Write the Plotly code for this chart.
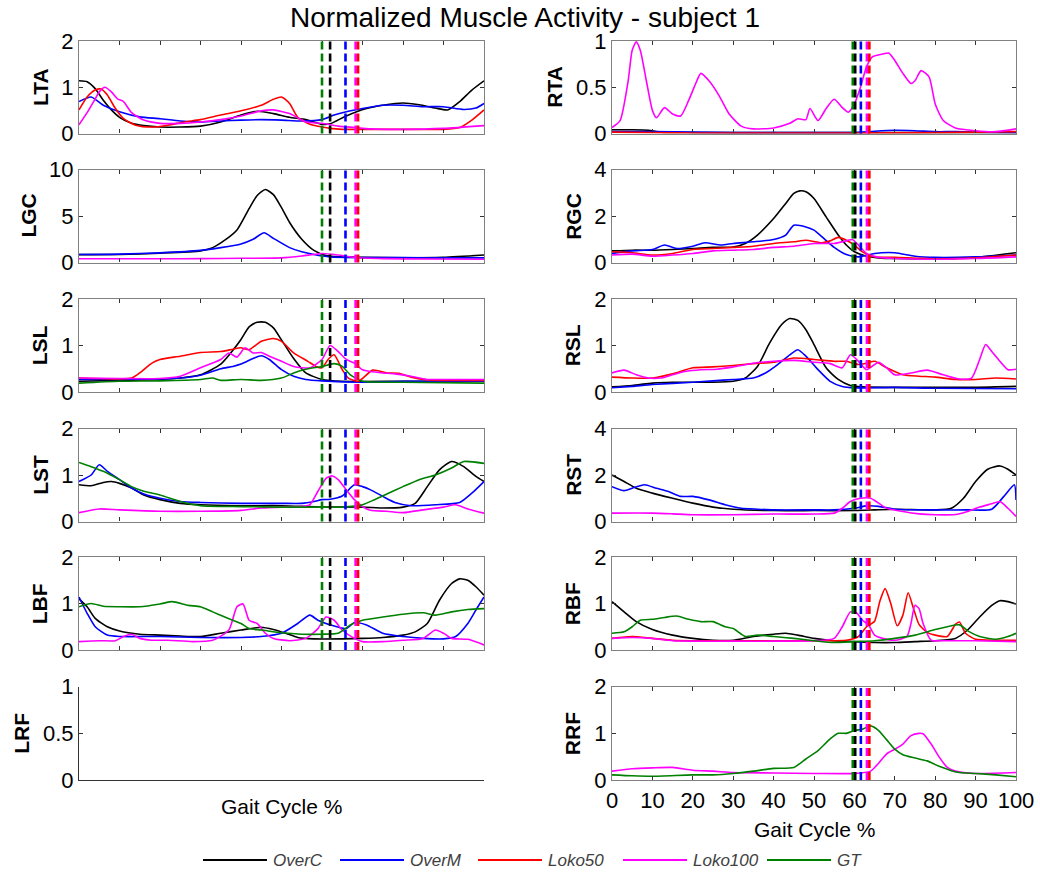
import plotly.graph_objects as go

# ---------------- data ----------------
SERIES = ["OverC", "OverM", "Loko50", "Loko100", "GT"]
COLORS = {"OverC": "#000000", "OverM": "#0000ff", "Loko50": "#ff0000",
          "Loko100": "#ff00ff", "GT": "#008000"}

LEFT_MUSCLES = ["LTA", "LGC", "LSL", "LST", "LBF", "LRF"]
RIGHT_MUSCLES = ["RTA", "RGC", "RSL", "RST", "RBF", "RRF"]

Y_TICKS = {
    "LTA": [0, 1, 2], "RTA": [0, 0.5, 1],
    "LGC": [0, 5, 10], "RGC": [0, 2, 4],
    "LSL": [0, 1, 2], "RSL": [0, 1, 2],
    "LST": [0, 1, 2], "RST": [0, 2, 4],
    "LBF": [0, 1, 2], "RBF": [0, 1, 2],
    "LRF": [0, 0.5, 1], "RRF": [0, 1, 2],
}
Y_TICKTEXT = {
    "LTA": ["0", "1", "2"], "RTA": ["0", "0.5", "1"],
    "LGC": ["0", "5", "10"], "RGC": ["0", "2", "4"],
    "LSL": ["0", "1", "2"], "RSL": ["0", "1", "2"],
    "LST": ["0", "1", "2"], "RST": ["0", "2", "4"],
    "LBF": ["0", "1", "2"], "RBF": ["0", "1", "2"],
    "LRF": ["0", "0.5", "1"], "RRF": ["0", "1", "2"],
}
X_TICKS = [0, 10, 20, 30, 40, 50, 60, 70, 80, 90, 100]

# gait events (toe-off %) per series, left and right side
LEFT_EVENTS = {"GT": 60.0, "OverC": 62.0, "OverM": 65.8, "Loko100": 68.3, "Loko50": 68.9}
RIGHT_EVENTS = {"GT": 59.6, "OverC": 60.2, "OverM": 61.6, "Loko100": 63.1, "Loko50": 63.7}

# ---- LTA ----
LTA_OVERC_X = [0, 2, 4, 6, 8, 10, 13, 16, 20, 25, 30, 35, 40, 44, 48, 52, 56, 60, 62, 66, 71, 75, 80, 84, 88, 91, 94, 97, 100]
LTA_OVERC_Y = [1.14, 1.12, 0.97, 0.72, 0.51, 0.35, 0.22, 0.17, 0.14, 0.14, 0.16, 0.25, 0.40, 0.48, 0.43, 0.35, 0.30, 0.20, 0.21, 0.38, 0.54, 0.61, 0.66, 0.62, 0.55, 0.51, 0.69, 0.94, 1.14]
LTA_OVERM_X = [0, 3, 6, 10, 15, 20, 25, 30, 35, 40, 45, 50, 55, 60, 63, 66, 70, 75, 80, 85, 90, 95, 98, 100]
LTA_OVERM_Y = [0.69, 0.79, 0.61, 0.47, 0.36, 0.32, 0.27, 0.25, 0.27, 0.29, 0.30, 0.29, 0.27, 0.30, 0.40, 0.47, 0.54, 0.61, 0.61, 0.58, 0.58, 0.52, 0.55, 0.65]
LTA_LOKO50_X = [0, 2, 4, 5.5, 7, 9, 11, 14, 18, 22, 26, 30, 35, 40, 45, 48, 50, 52, 54, 57, 60, 62, 65, 70, 80, 90, 94, 97, 100]
LTA_LOKO50_Y = [0.51, 0.79, 0.94, 0.96, 0.83, 0.54, 0.32, 0.18, 0.14, 0.18, 0.25, 0.30, 0.40, 0.49, 0.61, 0.74, 0.79, 0.65, 0.35, 0.20, 0.14, 0.11, 0.09, 0.09, 0.09, 0.09, 0.13, 0.29, 0.51]
LTA_LOKO100_X = [0, 2, 4, 5, 6.4, 8, 9.5, 11, 13, 16, 20, 25, 30, 35, 40, 45, 48, 52, 56, 60, 64, 68, 72, 80, 90, 100]
LTA_LOKO100_Y = [0.19, 0.45, 0.75, 0.90, 1.00, 0.90, 0.75, 0.69, 0.45, 0.29, 0.22, 0.22, 0.25, 0.30, 0.38, 0.49, 0.51, 0.43, 0.25, 0.22, 0.16, 0.13, 0.10, 0.09, 0.11, 0.17]

# ---- LGC ----
LGC_OVERC_X = [0, 10, 20, 30, 33, 36, 39, 42, 44, 46, 48, 50, 52, 55, 58, 61, 64, 70, 80, 90, 100]
LGC_OVERC_Y = [0.85, 0.86, 1.0, 1.25, 1.6, 2.4, 3.5, 5.8, 7.2, 7.85, 7.3, 5.9, 4.3, 2.5, 1.3, 0.75, 0.6, 0.55, 0.5, 0.55, 0.8]
LGC_OVERM_X = [0, 10, 20, 30, 35, 40, 43, 45.7, 48, 52, 55, 58, 62, 70, 80, 90, 100]
LGC_OVERM_Y = [0.86, 0.9, 1.04, 1.3, 1.6, 2.0, 2.5, 3.2, 2.6, 1.6, 1.15, 0.86, 0.6, 0.54, 0.52, 0.5, 0.5]
LGC_LOKO100_X = [0, 10, 20, 30, 40, 50, 55, 60, 64, 68, 75, 85, 100]
LGC_LOKO100_Y = [0.4, 0.4, 0.4, 0.42, 0.45, 0.5, 0.7, 0.97, 0.8, 0.54, 0.42, 0.38, 0.35]

# ---- LSL ----
LSL_OVERC_X = [0, 10, 20, 25, 30, 35, 38, 40, 42, 44, 46, 48, 50, 53, 56, 60, 65, 80, 100]
LSL_OVERC_Y = [0.23, 0.25, 0.27, 0.30, 0.37, 0.60, 0.90, 1.13, 1.40, 1.50, 1.50, 1.38, 1.12, 0.72, 0.41, 0.27, 0.23, 0.23, 0.23]
LSL_OVERM_X = [0, 10, 20, 25, 30, 35, 38, 40, 43, 45, 47, 50, 53, 56, 60, 70, 80, 100]
LSL_OVERM_Y = [0.27, 0.27, 0.28, 0.30, 0.36, 0.50, 0.55, 0.60, 0.72, 0.78, 0.70, 0.48, 0.34, 0.27, 0.24, 0.21, 0.23, 0.23]
LSL_LOKO50_X = [0, 10, 13, 15, 18, 20, 25, 30, 35, 38, 40, 42, 45, 48, 50, 53, 56.5, 58.5, 60, 61.5, 63, 65, 66.5, 69, 72.5, 76, 79, 82, 86, 90, 100]
LSL_LOKO50_Y = [0.30, 0.28, 0.30, 0.41, 0.62, 0.70, 0.77, 0.85, 0.87, 0.92, 0.95, 0.91, 1.09, 1.15, 1.09, 0.84, 0.66, 0.55, 0.52, 0.70, 0.80, 0.48, 0.30, 0.23, 0.47, 0.41, 0.40, 0.32, 0.26, 0.25, 0.25]
LSL_LOKO100_X = [0, 10, 20, 25, 30, 35, 37, 39, 41, 43, 45, 47, 50, 53, 57, 60, 62, 64, 66, 68, 70, 72, 75, 78, 82, 86, 90, 100]
LSL_LOKO100_Y = [0.30, 0.29, 0.29, 0.34, 0.52, 0.70, 0.84, 0.75, 0.95, 0.84, 0.85, 0.77, 0.66, 0.55, 0.52, 0.70, 1.00, 0.87, 0.70, 0.62, 0.48, 0.44, 0.41, 0.39, 0.34, 0.27, 0.27, 0.27]
LSL_GT_X = [0, 10, 20, 30, 33, 35, 40, 45, 50, 53, 56, 60, 63, 65, 67, 70, 75, 80, 100]
LSL_GT_Y = [0.19, 0.23, 0.24, 0.27, 0.30, 0.25, 0.27, 0.25, 0.30, 0.41, 0.49, 0.55, 0.61, 0.55, 0.37, 0.23, 0.21, 0.21, 0.19]

# ---- LST ----
LST_OVERC_X = [0, 3, 6, 8, 10, 13, 16, 20, 25, 30, 40, 50, 60, 70, 75, 80, 83, 86, 89, 92, 95, 98, 100]
LST_OVERC_Y = [0.79, 0.77, 0.84, 0.86, 0.82, 0.72, 0.57, 0.47, 0.39, 0.36, 0.34, 0.34, 0.31, 0.31, 0.29, 0.31, 0.39, 0.75, 1.11, 1.29, 1.18, 0.97, 0.86]
LST_OVERM_X = [0, 3, 5, 7, 10, 13, 16, 20, 25, 30, 40, 50, 55, 58, 60, 62, 65, 68, 70, 72, 75, 78, 82, 88, 94, 97, 100]
LST_OVERM_Y = [0.86, 1.0, 1.22, 1.08, 0.90, 0.72, 0.59, 0.50, 0.43, 0.41, 0.39, 0.39, 0.39, 0.43, 0.47, 0.48, 0.55, 0.79, 0.75, 0.68, 0.54, 0.41, 0.34, 0.36, 0.41, 0.61, 0.86]
LST_LOKO100_X = [0, 5, 10, 20, 30, 40, 45, 50, 55, 57, 59, 61, 62.5, 64, 66, 68, 70, 72, 76, 80, 85, 90, 93, 96, 100]
LST_LOKO100_Y = [0.19, 0.27, 0.25, 0.22, 0.22, 0.24, 0.29, 0.31, 0.32, 0.36, 0.65, 0.93, 0.98, 0.90, 0.68, 0.47, 0.32, 0.24, 0.22, 0.19, 0.25, 0.31, 0.36, 0.27, 0.18]
LST_GT_X = [0, 3, 6, 10, 13, 16, 20, 25, 30, 40, 50, 60, 65, 70, 73, 76, 80, 84, 88, 92, 95, 100]
LST_GT_Y = [1.27, 1.18, 1.08, 0.90, 0.75, 0.65, 0.57, 0.43, 0.34, 0.32, 0.31, 0.31, 0.31, 0.36, 0.47, 0.59, 0.75, 0.90, 1.0, 1.15, 1.29, 1.25]

# ---- LBF ----
LBF_OVERC_X = [0, 2, 4, 7, 10, 15, 20, 25, 30, 35, 40, 45, 48, 51, 54, 58, 65, 70, 75, 80, 83, 86, 89, 92, 94, 96, 98, 100]
LBF_OVERC_Y = [1.10, 0.93, 0.68, 0.50, 0.41, 0.34, 0.32, 0.30, 0.29, 0.36, 0.43, 0.49, 0.44, 0.36, 0.27, 0.24, 0.24, 0.25, 0.27, 0.32, 0.39, 0.57, 1.07, 1.43, 1.53, 1.50, 1.36, 1.18]
LBF_OVERM_X = [0, 2, 4, 7, 10, 20, 30, 40, 45, 50, 54, 57, 59, 62, 66, 68, 71, 75, 80, 85, 90, 93, 96, 98, 100]
LBF_OVERM_Y = [1.14, 0.79, 0.50, 0.32, 0.29, 0.29, 0.27, 0.27, 0.29, 0.36, 0.57, 0.75, 0.64, 0.54, 0.46, 0.59, 0.54, 0.36, 0.29, 0.25, 0.24, 0.29, 0.57, 0.86, 1.14]
LBF_LOKO100_X = [0, 5, 9, 11, 13, 15, 18, 22, 28, 33, 37, 39, 40.5, 42, 44, 46, 48, 52, 56, 59, 61, 63, 65, 68, 70, 75, 80, 85, 88, 90, 92, 96, 100]
LBF_LOKO100_Y = [0.18, 0.20, 0.20, 0.29, 0.34, 0.25, 0.21, 0.21, 0.18, 0.21, 0.43, 0.93, 0.99, 0.64, 0.57, 0.36, 0.25, 0.20, 0.25, 0.46, 0.71, 0.64, 0.43, 0.25, 0.18, 0.18, 0.21, 0.25, 0.43, 0.36, 0.25, 0.23, 0.11]
LBF_GT_X = [0, 3, 6, 10, 15, 20, 23, 27, 30, 33, 36, 40, 42, 45, 50, 55, 60, 64, 67, 70, 75, 80, 85, 88, 92, 96, 100]
LBF_GT_Y = [0.93, 1.0, 0.94, 0.93, 0.93, 0.99, 1.04, 0.96, 0.93, 0.82, 0.71, 0.57, 0.46, 0.43, 0.37, 0.34, 0.34, 0.36, 0.54, 0.64, 0.71, 0.77, 0.80, 0.75, 0.82, 0.87, 0.89]

# ---- RTA ----
RTA_OVERC_X = [0, 5, 9, 12, 20, 40, 60, 80, 100]
RTA_OVERC_Y = [0.04, 0.04, 0.035, 0.015, 0.01, 0.01, 0.01, 0.01, 0.01]
RTA_OVERM_X = [0, 10, 20, 30, 40, 50, 60, 65, 70, 75, 80, 85, 90, 100]
RTA_OVERM_Y = [0.02, 0.02, 0.015, 0.01, 0.01, 0.01, 0.01, 0.025, 0.035, 0.03, 0.02, 0.02, 0.015, 0.01]
RTA_LOKO50_X = [0, 10, 20, 40, 60, 80, 100]
RTA_LOKO50_Y = [0.015, 0.01, 0.005, 0.005, 0.005, 0.01, 0.02]
RTA_LOKO100_X = [0, 2, 4, 5, 6, 7, 8.5, 10, 11, 13, 15, 17, 19, 21, 22, 24, 26.5, 29, 32, 35, 40, 44, 46, 48, 49, 51, 53, 55, 57, 58.5, 60, 61.5, 63, 64.5, 67, 68.5, 70, 72, 74, 75, 76.5, 78.5, 80, 82, 85, 90, 95, 100]
RTA_LOKO100_Y = [0.065, 0.14, 0.57, 0.90, 0.99, 0.90, 0.57, 0.25, 0.17, 0.28, 0.21, 0.19, 0.36, 0.57, 0.65, 0.57, 0.41, 0.21, 0.08, 0.05, 0.06, 0.11, 0.16, 0.15, 0.27, 0.14, 0.27, 0.37, 0.28, 0.23, 0.32, 0.50, 0.72, 0.83, 0.86, 0.87, 0.79, 0.65, 0.54, 0.57, 0.68, 0.61, 0.32, 0.14, 0.06, 0.03, 0.02, 0.05]

# ---- RGC ----
RGC_OVERC_X = [0, 5, 10, 15, 20, 25, 30, 33, 36, 40, 43, 45, 46.5, 48, 50, 53, 56, 58, 60, 63, 66, 70, 80, 90, 100]
RGC_OVERC_Y = [0.50, 0.53, 0.53, 0.56, 0.60, 0.65, 0.67, 0.82, 1.18, 1.89, 2.54, 2.97, 3.08, 3.04, 2.75, 1.96, 1.18, 0.75, 0.46, 0.27, 0.20, 0.17, 0.16, 0.22, 0.42]
RGC_OVERM_X = [0, 5, 10, 13, 16, 20, 23, 27, 30, 35, 40, 43, 45, 48, 50, 52, 55, 58, 61, 65, 70, 75, 80, 90, 100]
RGC_OVERM_Y = [0.39, 0.50, 0.56, 0.75, 0.60, 0.70, 0.85, 0.75, 0.82, 0.89, 0.99, 1.18, 1.60, 1.53, 1.39, 1.10, 0.65, 0.34, 0.24, 0.39, 0.42, 0.27, 0.22, 0.24, 0.32]
RGC_LOKO50_X = [0, 5, 10, 15, 20, 25, 30, 35, 40, 45, 48, 52, 54, 56, 58, 60, 62, 65, 70, 80, 90, 100]
RGC_LOKO50_Y = [0.46, 0.42, 0.32, 0.39, 0.56, 0.60, 0.65, 0.70, 0.82, 0.89, 0.96, 0.85, 0.93, 1.08, 0.96, 0.75, 0.46, 0.24, 0.22, 0.16, 0.20, 0.32]
RGC_LOKO100_X = [0, 5, 10, 15, 20, 25, 30, 35, 40, 45, 50, 55, 58, 59.5, 61, 63, 66, 70, 80, 90, 100]
RGC_LOKO100_Y = [0.32, 0.36, 0.27, 0.32, 0.39, 0.50, 0.53, 0.56, 0.65, 0.70, 0.82, 0.82, 0.93, 0.99, 0.75, 0.39, 0.22, 0.17, 0.14, 0.17, 0.24]

# ---- RSL ----
RSL_OVERC_X = [0, 5, 10, 15, 20, 25, 30, 33, 36, 39, 42, 44, 46, 48, 50, 53, 56, 59, 62, 70, 80, 90, 100]
RSL_OVERC_Y = [0.11, 0.14, 0.19, 0.21, 0.21, 0.21, 0.23, 0.30, 0.55, 1.05, 1.45, 1.58, 1.54, 1.34, 1.02, 0.52, 0.27, 0.14, 0.11, 0.10, 0.10, 0.10, 0.12]
RSL_OVERM_X = [0, 5, 10, 20, 25, 30, 35, 38, 41, 44, 46, 48, 51, 54, 57, 60, 70, 80, 100]
RSL_OVERM_Y = [0.09, 0.12, 0.16, 0.21, 0.24, 0.27, 0.30, 0.41, 0.59, 0.80, 0.91, 0.77, 0.48, 0.23, 0.12, 0.09, 0.10, 0.08, 0.07]
RSL_LOKO50_X = [0, 5, 10, 15, 20, 25, 30, 35, 40, 45, 50, 55, 58, 61, 63, 65, 68, 72, 76, 80, 85, 90, 95, 100]
RSL_LOKO50_Y = [0.32, 0.30, 0.30, 0.39, 0.52, 0.54, 0.57, 0.61, 0.64, 0.73, 0.70, 0.66, 0.66, 0.59, 0.62, 0.66, 0.52, 0.37, 0.34, 0.32, 0.27, 0.27, 0.30, 0.28]
RSL_LOKO100_X = [0, 3, 6, 9, 12, 15, 18, 22, 26, 30, 35, 40, 45, 50, 54, 57, 59, 61, 63, 65, 66, 68, 70, 74, 78, 82, 86, 89, 91, 92.5, 94, 96, 98, 100]
RSL_LOKO100_Y = [0.41, 0.47, 0.37, 0.30, 0.30, 0.37, 0.44, 0.48, 0.49, 0.54, 0.62, 0.66, 0.68, 0.64, 0.61, 0.52, 0.80, 0.66, 0.48, 0.59, 0.64, 0.52, 0.37, 0.41, 0.47, 0.37, 0.28, 0.30, 0.70, 1.02, 0.87, 0.66, 0.48, 0.49]

# ---- RST ----
RST_OVERC_X = [0, 3, 6, 10, 15, 20, 25, 30, 40, 50, 60, 65, 70, 80, 84, 87, 90, 93, 96, 98, 100]
RST_OVERC_Y = [2.0, 1.72, 1.43, 1.22, 1.0, 0.79, 0.62, 0.53, 0.47, 0.47, 0.47, 0.50, 0.53, 0.50, 0.57, 1.0, 1.72, 2.25, 2.39, 2.25, 2.0]
RST_OVERM_X = [0, 3, 5, 8, 11, 14, 17, 20, 24, 28, 32, 36, 40, 50, 55, 60, 63, 66, 70, 80, 88, 94, 97, 99.6, 100]
RST_OVERM_Y = [1.50, 1.33, 1.43, 1.58, 1.43, 1.29, 1.08, 1.08, 0.93, 0.72, 0.57, 0.53, 0.50, 0.50, 0.50, 0.57, 0.67, 0.65, 0.53, 0.50, 0.50, 0.53, 1.08, 1.58, 0.93]
RST_LOKO100_X = [0, 10, 15, 20, 30, 40, 50, 55, 57, 59, 61.5, 64, 66, 68, 72, 76, 80, 85, 88, 91, 94, 96, 98, 100]
RST_LOKO100_Y = [0.36, 0.36, 0.33, 0.29, 0.29, 0.32, 0.32, 0.36, 0.57, 0.86, 1.0, 1.0, 0.79, 0.57, 0.43, 0.33, 0.29, 0.30, 0.43, 0.62, 0.76, 0.86, 0.57, 0.22]

# ---- RBF ----
RBF_OVERC_X = [0, 3, 6, 10, 15, 20, 25, 30, 35, 40, 43, 46, 50, 55, 60, 65, 70, 75, 80, 85, 88, 91, 94, 96, 98, 100]
RBF_OVERC_Y = [1.04, 0.82, 0.61, 0.44, 0.32, 0.25, 0.21, 0.21, 0.29, 0.34, 0.36, 0.32, 0.25, 0.20, 0.18, 0.16, 0.16, 0.18, 0.20, 0.25, 0.43, 0.71, 0.96, 1.06, 1.04, 0.99]
RBF_LOKO50_X = [0, 5, 10, 15, 20, 30, 40, 50, 58, 61, 63, 65, 66.3, 67.6, 69, 70.6, 72, 73.3, 74.6, 76, 78, 80, 83, 85, 86, 87.5, 90, 95, 100]
RBF_LOKO50_Y = [0.25, 0.29, 0.25, 0.21, 0.20, 0.20, 0.20, 0.20, 0.21, 0.29, 0.50, 0.62, 1.05, 1.32, 1.0, 0.52, 0.75, 1.23, 0.9, 0.55, 0.38, 0.32, 0.29, 0.55, 0.6, 0.36, 0.23, 0.21, 0.21]
RBF_LOKO100_X = [0, 5, 10, 15, 20, 30, 40, 50, 55, 57, 59, 60.5, 62, 63.5, 65, 67, 70, 73, 74, 75, 76, 77, 79, 82, 86, 90, 100]
RBF_LOKO100_Y = [0.25, 0.27, 0.25, 0.20, 0.19, 0.19, 0.19, 0.20, 0.25, 0.50, 0.82, 0.80, 0.64, 0.54, 0.32, 0.25, 0.21, 0.29, 0.57, 0.96, 0.89, 0.57, 0.21, 0.20, 0.20, 0.20, 0.18]
RBF_GT_X = [0, 3, 5, 7, 10, 13, 16, 19, 22, 25, 28, 30, 33, 36, 40, 45, 50, 55, 60, 65, 70, 75, 80, 83, 86, 88.5, 91, 95, 98, 100]
RBF_GT_Y = [0.36, 0.39, 0.50, 0.64, 0.66, 0.70, 0.73, 0.66, 0.61, 0.61, 0.50, 0.46, 0.29, 0.32, 0.29, 0.25, 0.20, 0.16, 0.18, 0.20, 0.25, 0.32, 0.44, 0.50, 0.54, 0.39, 0.29, 0.23, 0.29, 0.36]

# ---- RRF ----
RRF_LOKO100_X = [0, 5, 10, 15, 20, 25, 30, 40, 50, 60, 64, 66, 68, 70, 72, 74, 76, 77, 79, 81, 83, 85, 90, 100]
RRF_LOKO100_Y = [0.19, 0.24, 0.26, 0.27, 0.21, 0.19, 0.16, 0.15, 0.14, 0.14, 0.19, 0.36, 0.56, 0.66, 0.77, 0.95, 1.0, 0.99, 0.77, 0.49, 0.27, 0.19, 0.14, 0.16]
RRF_GT_X = [0, 5, 10, 20, 25, 30, 35, 40, 45, 48, 51, 54, 56, 58, 60, 62, 64, 66, 68, 70, 72, 75, 78, 80, 82, 84, 86, 90, 95, 100]
RRF_GT_Y = [0.11, 0.09, 0.08, 0.11, 0.11, 0.14, 0.19, 0.25, 0.27, 0.45, 0.63, 0.88, 1.0, 1.0, 1.06, 1.09, 1.16, 1.06, 0.86, 0.66, 0.54, 0.47, 0.41, 0.33, 0.26, 0.20, 0.16, 0.14, 0.11, 0.07]

CURVES = {
    "LTA": [("OverC", LTA_OVERC_X, LTA_OVERC_Y), ("OverM", LTA_OVERM_X, LTA_OVERM_Y),
            ("Loko50", LTA_LOKO50_X, LTA_LOKO50_Y), ("Loko100", LTA_LOKO100_X, LTA_LOKO100_Y)],
    "RTA": [("OverC", RTA_OVERC_X, RTA_OVERC_Y), ("OverM", RTA_OVERM_X, RTA_OVERM_Y),
            ("Loko50", RTA_LOKO50_X, RTA_LOKO50_Y), ("Loko100", RTA_LOKO100_X, RTA_LOKO100_Y)],
    "LGC": [("OverC", LGC_OVERC_X, LGC_OVERC_Y), ("OverM", LGC_OVERM_X, LGC_OVERM_Y),
            ("Loko100", LGC_LOKO100_X, LGC_LOKO100_Y)],
    "RGC": [("OverC", RGC_OVERC_X, RGC_OVERC_Y), ("OverM", RGC_OVERM_X, RGC_OVERM_Y),
            ("Loko50", RGC_LOKO50_X, RGC_LOKO50_Y), ("Loko100", RGC_LOKO100_X, RGC_LOKO100_Y)],
    "LSL": [("OverC", LSL_OVERC_X, LSL_OVERC_Y), ("OverM", LSL_OVERM_X, LSL_OVERM_Y),
            ("Loko50", LSL_LOKO50_X, LSL_LOKO50_Y), ("Loko100", LSL_LOKO100_X, LSL_LOKO100_Y),
            ("GT", LSL_GT_X, LSL_GT_Y)],
    "RSL": [("OverC", RSL_OVERC_X, RSL_OVERC_Y), ("OverM", RSL_OVERM_X, RSL_OVERM_Y),
            ("Loko50", RSL_LOKO50_X, RSL_LOKO50_Y), ("Loko100", RSL_LOKO100_X, RSL_LOKO100_Y)],
    "LST": [("OverC", LST_OVERC_X, LST_OVERC_Y), ("OverM", LST_OVERM_X, LST_OVERM_Y),
            ("Loko100", LST_LOKO100_X, LST_LOKO100_Y), ("GT", LST_GT_X, LST_GT_Y)],
    "RST": [("OverC", RST_OVERC_X, RST_OVERC_Y), ("OverM", RST_OVERM_X, RST_OVERM_Y),
            ("Loko100", RST_LOKO100_X, RST_LOKO100_Y)],
    "LBF": [("OverC", LBF_OVERC_X, LBF_OVERC_Y), ("OverM", LBF_OVERM_X, LBF_OVERM_Y),
            ("Loko100", LBF_LOKO100_X, LBF_LOKO100_Y), ("GT", LBF_GT_X, LBF_GT_Y)],
    "RBF": [("OverC", RBF_OVERC_X, RBF_OVERC_Y), ("Loko50", RBF_LOKO50_X, RBF_LOKO50_Y),
            ("Loko100", RBF_LOKO100_X, RBF_LOKO100_Y), ("GT", RBF_GT_X, RBF_GT_Y)],
    "LRF": [],
    "RRF": [("Loko100", RRF_LOKO100_X, RRF_LOKO100_Y), ("GT", RRF_GT_X, RRF_GT_Y)],
}

# ---------------- layout geometry (pixels of the 1040x872 page) ----------------
W, H = 1040, 872
COL_X = [(79, 484), (612, 1016)]
ROW_Y = [(41, 133.5), (169.5, 262.5), (299, 392), (428.5, 521.5), (557, 650), (686.7, 780)]
FONT = "Liberation Sans, Arial, sans-serif"
TICK_SIZE = 22
LEGEND_X = [203, 340, 478, 623, 767]   # left end of each legend sample line (px)
LEGEND_LINE = 64
LEGEND_Y = 860


def label_offset(texts):
    """x distance (px) from the axis line to the centre of the rotated muscle label."""
    widest = max(len(t.replace(".", "")) * 12.2 + t.count(".") * 6.1 for t in texts)
    return 5 + widest + 22


fig = go.Figure()
layout = {}
annotations = []
shapes = []
event_order = ["GT", "OverC", "OverM", "Loko100", "Loko50"]

for r in range(6):
    for c in range(2):
        n = r * 2 + c + 1
        muscle = (LEFT_MUSCLES if c == 0 else RIGHT_MUSCLES)[r]
        xs = "" if n == 1 else str(n)
        x0, x1 = COL_X[c]
        ytop, ybot = ROW_Y[r]
        ydom = [1 - ybot / H, 1 - ytop / H]
        ticks = Y_TICKS[muscle]
        is_lrf = muscle == "LRF"
        line_col = "#333333" if is_lrf else "#808080"
        layout["xaxis" + xs] = dict(
            domain=[x0 / W, x1 / W], range=[0, 100], anchor="y" + xs,
            showgrid=False, zeroline=False, showline=True, automargin=False,
            mirror=False if is_lrf else "ticks", linecolor=line_col, linewidth=1.2,
            ticks="" if is_lrf else "inside", ticklen=4, tickcolor="#333333",
            tickvals=X_TICKS, showticklabels=(muscle == "RRF"),
            tickfont=dict(size=TICK_SIZE, color="black", family=FONT),
        )
        layout["yaxis" + xs] = dict(
            domain=ydom, range=[ticks[0], ticks[-1]], anchor="x" + xs,
            showgrid=False, zeroline=False, showline=True, automargin=False,
            mirror=False if is_lrf else "ticks", linecolor=line_col, linewidth=1.2,
            ticks="inside", ticklen=4, tickcolor="#333333",
            tickvals=ticks, ticktext=Y_TICKTEXT[muscle],
            tickfont=dict(size=TICK_SIZE, color="black", family=FONT),
        )
        annotations.append(dict(
            text="<b>" + muscle + "</b>", xref="paper", yref="paper",
            x=(x0 - label_offset(Y_TICKTEXT[muscle])) / W, y=sum(ydom) / 2, textangle=-90,
            showarrow=False, font=dict(size=21, color="black", family=FONT),
            xanchor="center", yanchor="middle"))
        if not CURVES[muscle]:
            # empty subplot: a blank trace so that its axes get drawn
            fig.add_trace(go.Scatter(x=[None], y=[None], mode="lines", showlegend=False,
                                     xaxis="x" + xs, yaxis="y" + xs, hoverinfo="skip"))
        for name, xv, yv in CURVES[muscle]:
            fig.add_trace(go.Scatter(
                x=xv, y=yv, mode="lines", name=name, showlegend=False,
                line=dict(color=COLORS[name], width=1.6, shape="spline", smoothing=0.6),
                xaxis="x" + xs, yaxis="y" + xs, hoverinfo="skip"))
        if not is_lrf:
            ev = LEFT_EVENTS if c == 0 else RIGHT_EVENTS
            for name in event_order:
                shapes.append(dict(
                    type="line", xref="x" + xs, yref="y" + xs + " domain",
                    x0=ev[name], x1=ev[name], y0=0, y1=1, layer="above",
                    line=dict(color=COLORS[name], width=2.6, dash="8px,4px")))

annotations.append(dict(text="Gait Cycle %", xref="paper", yref="paper",
                        x=sum(COL_X[0]) / 2 / W, y=1 - 806 / H, showarrow=False,
                        xanchor="center", yanchor="middle",
                        font=dict(size=21, color="black", family=FONT)))
annotations.append(dict(text="Gait Cycle %", xref="paper", yref="paper",
                        x=sum(COL_X[1]) / 2 / W, y=1 - 829 / H, showarrow=False,
                        xanchor="center", yanchor="middle",
                        font=dict(size=21, color="black", family=FONT)))

# legend: sample lines + italic labels
for name, lx in zip(SERIES, LEGEND_X):
    shapes.append(dict(type="line", xref="paper", yref="paper",
                       x0=lx / W, x1=(lx + LEGEND_LINE) / W,
                       y0=1 - LEGEND_Y / H, y1=1 - LEGEND_Y / H,
                       line=dict(color=COLORS[name], width=2)))
    annotations.append(dict(text="<i>" + name + "</i>", xref="paper", yref="paper",
                            x=(lx + LEGEND_LINE + 4) / W, y=1 - LEGEND_Y / H,
                            xanchor="left", yanchor="middle", showarrow=False,
                            font=dict(size=17, color="#404040", family=FONT)))

fig.update_layout(
    **layout,
    width=W, height=H,
    margin=dict(l=0, r=0, t=0, b=0),
    paper_bgcolor="white", plot_bgcolor="white",
    font=dict(family=FONT, color="black"),
    title=dict(text="Normalized Muscle Activity - subject 1", x=525 / W, xanchor="center",
               y=1 - 17 / H, yanchor="middle", font=dict(size=28, color="black", family=FONT)),
    annotations=annotations, shapes=shapes,
    showlegend=False,
)

fig.write_html("out.html")
